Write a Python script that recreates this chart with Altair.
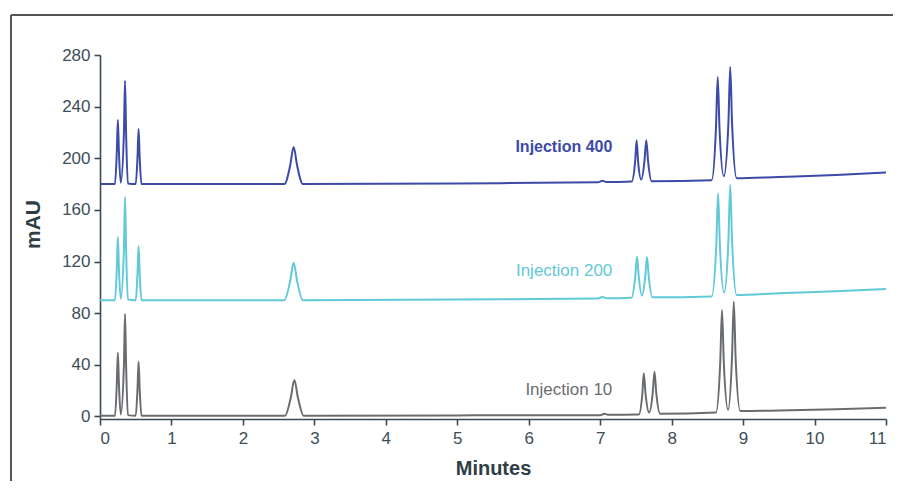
import pandas as pd
import altair as alt

# Chromatogram traces (time in minutes, absorbance in mAU)
t_400 = [0, 0.21, 0.235, 0.25, 0.265, 0.29, 0.335, 0.35, 0.365, 0.39, 0.50, 0.525, 0.54, 0.555, 0.58,
         2.58, 2.66, 2.71, 2.76, 2.84, 5.0, 6.97, 7.03, 7.09, 7.44, 7.49, 7.51, 7.53, 7.575, 7.62,
         7.645, 7.67, 7.72, 8.56, 8.62, 8.645, 8.67, 8.73, 8.795, 8.82, 8.845, 8.91, 9.5, 10.3, 11]
y_400 = [180, 180, 205, 229.6, 205, 181, 220, 260, 220, 180.5, 180, 201, 222.7, 201, 180,
         180, 194, 208.7, 194, 180, 180.5, 181.4, 182.5, 181.6, 182, 198, 214, 198, 183.5, 198,
         214, 198, 182.2, 183, 223, 263, 223, 186, 228, 270.7, 228, 184.5, 185.5, 187, 189]

t_200 = [0, 0.21, 0.235, 0.25, 0.265, 0.29, 0.335, 0.35, 0.365, 0.39, 0.50, 0.525, 0.54, 0.555, 0.58,
         2.58, 2.66, 2.71, 2.76, 2.84, 5.0, 6.97, 7.03, 7.09, 7.44, 7.49, 7.515, 7.54, 7.585, 7.63,
         7.655, 7.68, 7.73, 8.56, 8.625, 8.65, 8.675, 8.735, 8.795, 8.82, 8.845, 8.91, 9.5, 10.3, 11]
y_200 = [90, 90, 114.5, 139, 114.5, 91, 130, 170, 130, 90.5, 90, 111, 132, 111, 90,
         90, 104.5, 119, 104.5, 90, 90.5, 91.4, 92.5, 91.6, 92, 108, 123.7, 108, 93.5, 108,
         123.5, 108, 92.3, 93, 133, 172.8, 133, 96, 137, 179.3, 137, 94, 95.5, 97, 98.7]

t_10 = [0, 0.21, 0.235, 0.25, 0.265, 0.29, 0.335, 0.35, 0.365, 0.39, 0.50, 0.525, 0.54, 0.555, 0.58,
        2.59, 2.67, 2.72, 2.77, 2.85, 5.0, 7.0, 7.06, 7.12, 7.54, 7.59, 7.61, 7.635, 7.685, 7.735,
        7.76, 7.785, 7.84, 8.62, 8.68, 8.705, 8.73, 8.79, 8.845, 8.87, 8.895, 8.96, 9.5, 10.3, 11]
y_10 = [0.5, 0.5, 25, 49.4, 25, 1.5, 40, 79.3, 40, 1, 0.5, 21.5, 42.4, 21.5, 0.5,
        0.5, 14.5, 28.2, 14.5, 0.5, 0.8, 1, 2, 1.2, 1.5, 17.5, 33.4, 17.5, 3, 18,
        34.6, 18, 2, 3, 42, 82.4, 42, 5, 46, 88.9, 46, 4.2, 4.5, 5.5, 6.8]

series = ["Injection 400", "Injection 200", "Injection 10"]
colors = ["#3c4aa8", "#62c9d9", "#6a6d70"]
text_colors = ["#3f5cb2", "#6ccbdc", "#78858d"]

# label anchors (right end of text, in data units)
label_t = [7.17, 7.17, 7.17]
label_y = [208.5, 112.5, 20.5]

FONT = "Liberation Sans"

frames = []
for name, t, y in zip(series, [t_400, t_200, t_10], [y_400, y_200, y_10]):
    frames.append(pd.DataFrame({"time": t, "mAU": y, "series": name}))
traces = pd.concat(frames, ignore_index=True)

labels = pd.DataFrame({"series": series, "time": label_t, "mAU": label_y})

color_scale = alt.Scale(domain=series, range=colors)
text_scale = alt.Scale(domain=series, range=text_colors)

lines = alt.Chart(traces).mark_line(
    strokeWidth=2, interpolate="monotone"
).encode(
    x=alt.X("time:Q", scale=alt.Scale(domain=[0, 11], nice=False),
            axis=alt.Axis(values=list(range(0, 12)), format="d", title="Minutes",
                          titleY=49, titleBaseline="middle")),
    y=alt.Y("mAU:Q", scale=alt.Scale(domain=[-2, 280], nice=False),
            axis=alt.Axis(values=list(range(0, 281, 20)), title="mAU",
                          labelExpr="datum.value % 40 == 0 ? datum.label : ''",
                          titleX=-67, titleY=169, titleBaseline="middle")),
    color=alt.Color("series:N", scale=color_scale, legend=None),
    detail="series:N",
)

text_bold = alt.Chart(labels).transform_filter(
    alt.datum.series == "Injection 400"
).mark_text(align="right", baseline="middle", font=FONT, fontSize=16, fontWeight="bold").encode(
    x="time:Q", y="mAU:Q", text="series:N",
    color=alt.Color("series:N", scale=text_scale, legend=None),
)
text_plain = alt.Chart(labels).transform_filter(
    alt.datum.series != "Injection 400"
).mark_text(align="right", baseline="middle", font=FONT, fontSize=17).encode(
    x="time:Q", y="mAU:Q", text="series:N",
    color=alt.Color("series:N", scale=text_scale, legend=None),
)

# outer frame (left and top edges of the figure box)
box = pd.DataFrame({"k": [0]})
frame_left = alt.Chart(box).mark_rule(color="#555555", strokeWidth=2).encode(
    x=alt.value(-89), y=alt.value(-40), y2=alt.value(460)
)
frame_top = alt.Chart(box).mark_rule(color="#555555", strokeWidth=2).encode(
    x=alt.value(-89), x2=alt.value(820), y=alt.value(-40)
)

chart = alt.layer(frame_left, frame_top, lines, text_bold, text_plain).properties(
    width=786, height=364,
    autosize=alt.AutoSizeParams(type="none"),
    padding={"left": 92, "top": 47, "right": 7, "bottom": 62},
).configure_view(
    stroke=None
).configure_axis(
    domainColor="#3a4a52", tickColor="#3a4a52", domainWidth=1.6, tickWidth=1.6,
    tickSize=6, labelColor="#3d4e57", labelFont=FONT, labelFontSize=17,
    titleColor="#2f3d44", titleFont=FONT, titleFontWeight="bold", grid=False,
).configure_axisX(
    titleFontSize=20, labelPadding=5
).configure_axisY(
    titleFontSize=21, labelPadding=4
)

chart.save("out.html", embed_options={"renderer": "svg", "actions": False})
